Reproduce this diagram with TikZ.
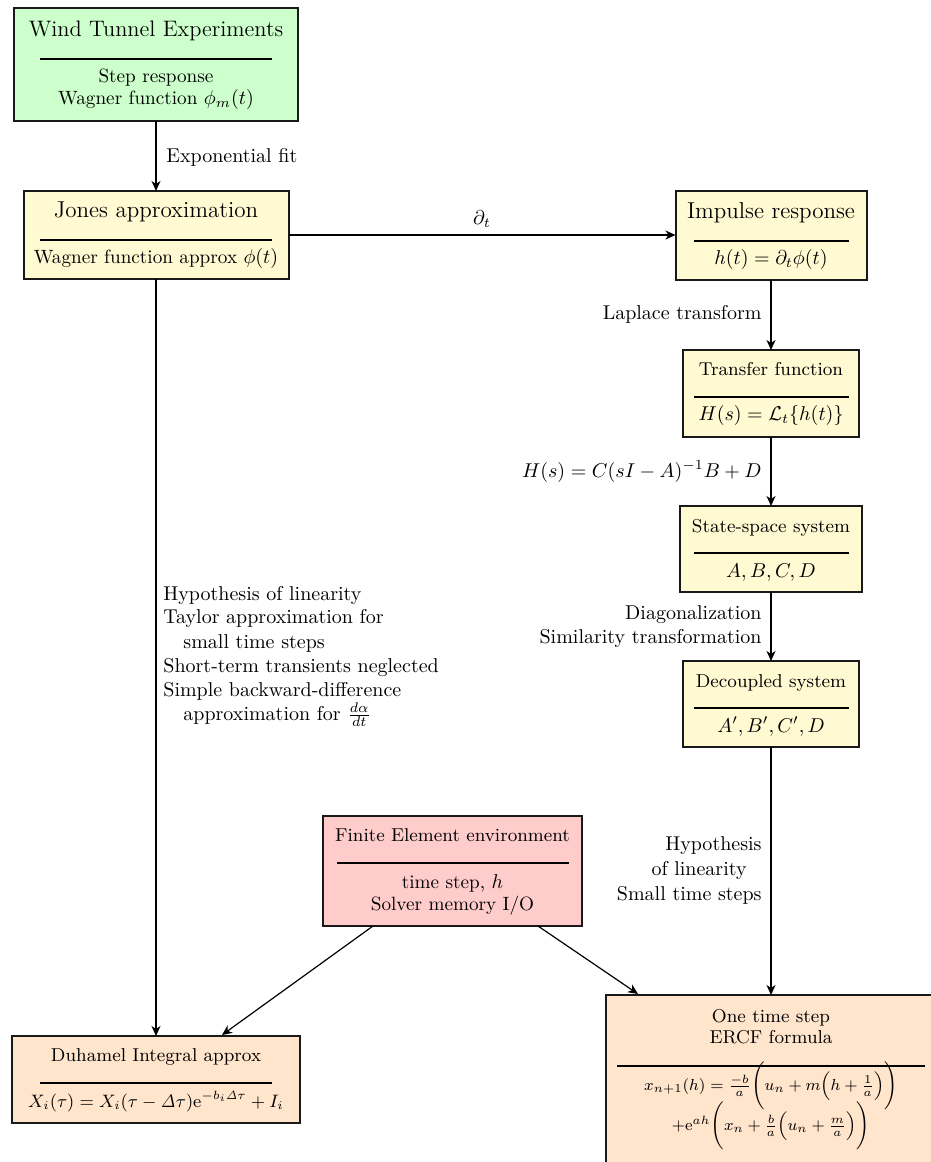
\documentclass[tikz,border=0pt]{standalone}
\usepackage{amsmath}
\usetikzlibrary{arrows.meta,calc}
\definecolor{cgreen}{HTML}{CCFFCC}
\definecolor{cyellow}{HTML}{FFFAD2}
\definecolor{cpink}{HTML}{FFCCCC}
\definecolor{cpeach}{HTML}{FFE5CC}
\begin{document}
\begin{tikzpicture}[x=0.5pt,y=-0.5pt,
 box/.style={draw=black!90, line width=1pt, inner sep=0pt, outer sep=0pt, rectangle},
 sepline/.style={line width=0.9pt},
 conn/.style={line width=0.6pt, -{Stealth[length=5pt,width=4.5pt,inset=1.5pt]}},
 ttl/.style={anchor=base, inner sep=0pt, font=\fontsize{11.5}{13}\selectfont},
 sttl/.style={anchor=base, inner sep=0pt, font=\fontsize{9.3}{11}\selectfont},
 bdy/.style={anchor=base, inner sep=0pt, font=\fontsize{9.6}{11}\selectfont},
 lbl/.style={inner sep=0pt, font=\fontsize{10}{12}\selectfont},
]
\clip (0,0) rectangle (931,1162);

% boxes
\node[box, fill=cgreen, minimum width=142pt, minimum height=56.5pt] (wind) at (156,64.5) {};
\node[box, fill=cyellow, minimum width=132.5pt, minimum height=44pt] (jones) at (156,235) {};
\node[box, fill=cyellow, minimum width=95.5pt, minimum height=44.5pt] (imp) at (771,235.5) {};
\node[box, fill=cyellow, minimum width=88pt, minimum height=43.5pt] (tf) at (771,393.5) {};
\node[box, fill=cyellow, minimum width=91pt, minimum height=43pt] (ss) at (771,549) {};
\node[box, fill=cyellow, minimum width=88pt, minimum height=43pt] (dec) at (771,704) {};
\node[box, fill=cpink, minimum width=129.5pt, minimum height=55pt] (fe) at (452.5,871) {};
\node[box, fill=cpeach, minimum width=144pt, minimum height=43.5pt] (duh) at (156,1079.5) {};
\node[box, fill=cpeach, minimum width=165pt, minimum height=85pt] (ercf) at (771,1080) {};

% separators
\draw[sepline] (40,59) -- (272,59);
\draw[sepline] (40,240) -- (272,240);
\draw[sepline] (694,241) -- (849,241);
\draw[sepline] (694,397) -- (849,397);
\draw[sepline] (694,553) -- (849,553);
\draw[sepline] (694,708) -- (849,708);
\draw[sepline] (337,863) -- (569,863);
\draw[sepline] (40,1083) -- (272,1083);
\draw[sepline] (617,1066) -- (925,1066);

% box texts
\node[ttl, font=\fontsize{11.2}{13}\selectfont] (windt) at (156,36) {Wind Tunnel Experiments};
\node[bdy] (windb1) at (156,82) {Step response};
\node[bdy] (windb2) at (156,104) {Wagner function $\phi_m(t)$};
\node[ttl] (jonest) at (156,217) {Jones approximation};
\node[bdy] (jonesb) at (156,263) {Wagner function approx $\phi(t)$};
\node[ttl] (impt) at (771,218) {Impulse response};
\node[bdy] (impb) at (771,264) {$h(t)=\partial_t\phi(t)$};
\node[sttl] (tft) at (771,375) {Transfer function};
\node[bdy] (tfb) at (771,420) {$H(s)=\mathcal{L}_t\{h(t)\}$};
\node[sttl] (sst) at (771,532) {State-space system};
\node[bdy] (ssb) at (771,577) {$A,B,C,D$};
\node[sttl] (dect) at (771,687) {Decoupled system};
\node[bdy] (decb) at (771,732) {$A',B',C',D$};
\node[sttl] (fet) at (452.5,841) {Finite Element environment};
\node[bdy] (feb1) at (452.5,888) {time step, $h$};
\node[bdy] (feb2) at (452.5,910) {Solver memory I/O};
\node[sttl] (duht) at (156,1061) {Duhamel Integral approx};
\node[bdy, font=\fontsize{9.1}{11}\selectfont] (duhb) at (156,1107) {$X_i(\tau)=X_i(\tau-\mathit{\Delta}\tau)\mathrm{e}^{-b_i\mathit{\Delta}\tau}+I_i$};
\node[sttl] (ercft1) at (771,1022) {One time step};
\node[sttl] (ercft2) at (771,1043) {ERCF formula};
\node[bdy, font=\fontsize{8.3}{10}\selectfont] (ercfb1) at (771,1090) {$x_{n+1}(h)=\frac{-b}{a}\Bigg(u_n+m\Big(h+\frac{1}{a}\Big)\Bigg)$};
\node[bdy, font=\fontsize{8.3}{10}\selectfont] (ercfb2) at (771,1130) {$+\mathrm{e}^{ah}\Bigg(x_n+\frac{b}{a}\Big(u_n+\frac{m}{a}\Big)\Bigg)$};

% connectors
\draw[conn] (wind.south) -- (wind.south |- jones.north);
\draw[conn] (jones.east) -- (jones.east -| imp.west);
\draw[conn] (imp.south) -- (tf.north);
\draw[conn] (tf.south) -- (ss.north);
\draw[conn] (ss.south) -- (dec.north);
\draw[conn] (dec.south) -- (ercf.north);
\draw[conn] (jones.south) -- (jones.south |- duh.north);
\draw[conn] ($(fe.south west)+(50,0)$) -- ($(duh.north west)+(210,-1)$);
\draw[conn] ($(fe.south east)+(-44,0)$) -- ($(ercf.north west)+(32,-1)$);

% connector labels
\node[lbl, anchor=base west] (l1) at (166,162) {Exponential fit};
\node[lbl, anchor=base] (l2) at (482,224) {$\partial_t$};
\node[lbl, anchor=base east] (l3) at (762,319) {Laplace transform};
\node[lbl, anchor=base east] (l4) at (762,477) {$H(s)=C(sI-A)^{-1}B+D$};
\node[lbl, anchor=base east] (l5) at (762,619) {Diagonalization};
\node[lbl, anchor=base east] (l6) at (762,643) {Similarity transformation};
\node[lbl, anchor=base east] (l7) at (762,850) {Hypothesis};
\node[lbl, anchor=base east] (l8) at (747,875) {of linearity};
\node[lbl, anchor=base east] (l9) at (762,900) {Small time steps};
\node[lbl, anchor=base west] (m1) at (163,600) {Hypothesis of linearity};
\node[lbl, anchor=base west] (m2) at (163,623) {Taylor approximation for};
\node[lbl, anchor=base west] (m3) at (183,648) {small time steps};
\node[lbl, anchor=base west] (m4) at (163,672) {Short-term transients neglected};
\node[lbl, anchor=base west] (m5) at (163,696) {Simple backward-difference};
\node[lbl, anchor=base west] (m6) at (183,720) {approximation for $\frac{d\alpha}{dt}$};
\end{tikzpicture}
\end{document}
